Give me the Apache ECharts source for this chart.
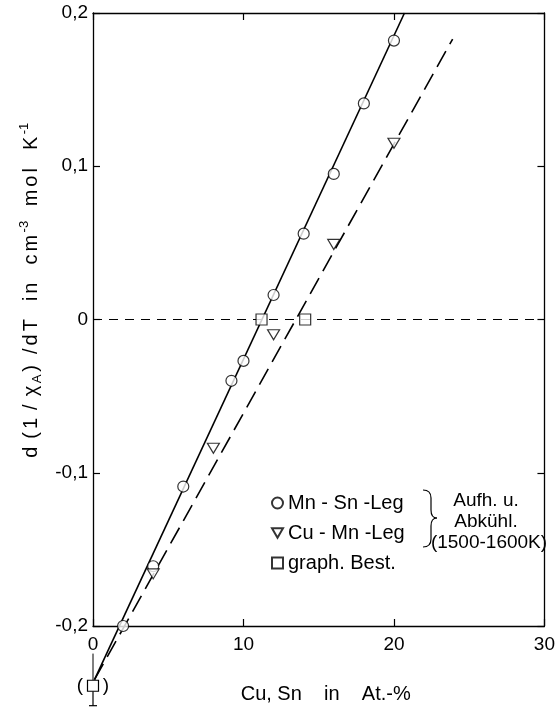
<!DOCTYPE html>
<html><head><meta charset="utf-8">
<script src="https://cdn.jsdelivr.net/npm/echarts@6/dist/echarts.min.js"></script>
<style>html,body{margin:0;padding:0;background:#fff}#c{width:558px;height:709px}</style>
</head><body><div id="c"></div>
<script>
// ---- data ----
const mnSnX = [2, 4, 6, 9.2, 10, 12, 14, 16, 18, 20];
const mnSnY = [-0.200, -0.161, -0.109, -0.040, -0.027, 0.016, 0.056, 0.095, 0.141, 0.182];
const cuMnX = [4, 8, 12, 16, 20];
const cuMnY = [-0.166, -0.084, -0.010, 0.049, 0.115];
const bestX = [11.2, 14.1];
const bestY = [0, 0];
const bestLowX = [0];
const bestLowY = [-0.239];
const bestLowErrHi = [-0.218];
const bestLowErrLo = [-0.252];
const fitMnSnX = [0.1, 20.7];
const fitMnSnY = [-0.235, 0.2];
const fitCuMnX = [0.1, 23.9];
const fitCuMnY = [-0.235, 0.183];
const zeroX = [0, 30];
const zeroY = [0, 0];
const legendNames = ['Mn - Sn -Leg', 'Cu - Mn -Leg', 'graph. Best.'];
const noteLines = ['Aufh. u.', 'Abkühl.', '(1500-1600K)'];
const xTitle = 'Cu, Sn    in    At.-%';

const FONT = 'Liberation Sans';
const zip = (a, b) => a.map((v, i) => [v, b[i]]);
const triDown = 'path://M0,0L12,0L6,10.4Z';
const sym = { color: '#fff', borderColor: '#000', borderWidth: 1.2 };

const chart = echarts.init(document.getElementById('c'), null, { renderer: 'canvas' });
const yFmt = v => { const r = Math.round(v * 10) / 10; return r === 0 ? '0' : r.toFixed(1).replace('.', ','); };

const braceStyle = { stroke: '#000', lineWidth: 1.2, fill: null };
const bz = (x1, y1, cx, cy, x2, y2) => ({ type: 'bezierCurve', z: 100, shape: { x1, y1, cpx1: cx, cpy1: cy, x2, y2 }, style: braceStyle });
const ln = (x1, y1, x2, y2) => ({ type: 'line', z: 100, shape: { x1, y1, x2, y2 }, style: braceStyle });
const note = (t, x, y) => ({ type: 'text', z: 100, x, y, style: { text: t, fontSize: 19, fontFamily: FONT, fill: '#000', align: 'center', verticalAlign: 'middle' } });

// y-axis title as spaced rich text: d(1/χA) /dT in cm-3 mol K-1
const ch = s => s.split('').map(c => `{t|${c}}`).join('');
const yName = '{g0| }' + '{t|d}{h| }{t|(}{t|1}{h| }{t|/}{h| }{t|χ}{sub|A}{t|)}' + '{g1| }' + ch('/dT') +
  '{g2| }' + ch('in') + '{g2| }' + ch('cm') + '{sup|-3}' + '{g3| }' + ch('mol') + '{g2| }' + ch('K') + '{sup|-1}';

chart.setOption({
  animation: false,
  backgroundColor: '#fff',
  textStyle: { fontFamily: FONT, color: '#000' },
  grid: { left: 93, right: 9, top: 13, bottom: 80, containLabel: false },
  xAxis: [
    { type: 'value', min: 0, max: 30, interval: 10, position: 'bottom',
      axisLine: { onZero: false, lineStyle: { color: '#000', width: 1.3 } },
      axisTick: { inside: true, length: 7, lineStyle: { color: '#000', width: 1.2 } },
      axisLabel: { fontSize: 19, color: '#000', fontFamily: FONT, margin: 9 },
      splitLine: { show: false },
      name: xTitle, nameLocation: 'middle', nameGap: 58,
      nameTextStyle: { fontSize: 20, color: '#000', fontFamily: FONT, padding: [0, 0, 0, 14] } },
    { type: 'value', min: 0, max: 30, interval: 10, position: 'top',
      axisLine: { onZero: false, lineStyle: { color: '#000', width: 1.3 } },
      axisTick: { inside: true, length: 7, lineStyle: { color: '#000', width: 1.2 } },
      axisLabel: { show: false }, splitLine: { show: false } }
  ],
  yAxis: [
    { type: 'value', min: -0.2, max: 0.2, interval: 0.1, position: 'left',
      axisLine: { onZero: false, lineStyle: { color: '#000', width: 1.3 } },
      axisTick: { inside: true, length: 7, lineStyle: { color: '#000', width: 1.2 } },
      axisLabel: { fontSize: 19, color: '#000', fontFamily: FONT, margin: 5, formatter: yFmt },
      splitLine: { show: false },
      name: yName,
      nameLocation: 'middle', nameGap: 47, nameRotate: 90,
      nameTextStyle: { fontFamily: FONT, color: '#000', rich: {
        t: { fontSize: 20, fontFamily: FONT, color: '#000', lineHeight: 26, padding: [0, 1.5, 0, 1.5] },
        h: { fontSize: 20, width: 5, lineHeight: 26 },
        g0: { fontSize: 20, width: 58, lineHeight: 26 },
        g1: { fontSize: 20, width: 8, lineHeight: 26 },
        g2: { fontSize: 20, width: 15, lineHeight: 26 },
        g3: { fontSize: 20, width: 12, lineHeight: 26 },
        sub: { fontSize: 13, fontFamily: FONT, color: '#000', lineHeight: 13, verticalAlign: 'bottom', padding: [0, 1.5, 0, 1] },
        sup: { fontSize: 13, fontFamily: FONT, color: '#000', lineHeight: 13, verticalAlign: 'top', padding: [0, 1, 0, 1] }
      } } },
    { type: 'value', min: -0.2, max: 0.2, interval: 0.1, position: 'right',
      axisLine: { onZero: false, lineStyle: { color: '#000', width: 1.3 } },
      axisTick: { inside: true, length: 7, lineStyle: { color: '#000', width: 1.2 } },
      axisLabel: { show: false }, splitLine: { show: false } }
  ],
  legend: {
    orient: 'vertical', left: 266, top: 488, itemGap: 10, itemWidth: 11, itemHeight: 11,
    selectedMode: false, data: legendNames,
    textStyle: { fontSize: 20, color: '#000', fontFamily: FONT }
  },
  graphic: [
    bz(423, 490, 431, 490, 431, 498), ln(431, 498, 431, 510), bz(431, 510, 431, 518, 437, 518),
    bz(437, 518, 431, 518, 431, 526), ln(431, 526, 431, 539), bz(431, 539, 431, 547, 423, 547),
    note(noteLines[0], 486, 501), note(noteLines[1], 486, 522), note(noteLines[2], 489, 543)
  ],
  series: [
    { type: 'line', name: 'zero', data: zip(zeroX, zeroY), symbol: 'none', silent: true,
      lineStyle: { color: '#000', width: 1, type: [9, 7] }, z: 1 },
    { type: 'line', name: 'fitMnSn', data: zip(fitMnSnX, fitMnSnY), symbol: 'none', clip: false,
      lineStyle: { color: '#000', width: 1.6 }, z: 2 },
    { type: 'line', name: 'fitCuMn', data: zip(fitCuMnX, fitCuMnY), symbol: 'none', clip: false,
      lineStyle: { color: '#000', width: 1.6, type: [18, 8] }, z: 2 },
    { type: 'scatter', name: legendNames[0], data: zip(mnSnX, mnSnY), symbol: 'circle', symbolSize: 11,
      itemStyle: sym, z: 5, clip: false },
    { type: 'scatter', name: legendNames[1], data: zip(cuMnX, cuMnY), symbol: triDown, symbolSize: [12, 10],
      itemStyle: sym, z: 5, clip: false },
    { type: 'scatter', name: legendNames[2], data: zip(bestX, bestY), symbol: 'rect', symbolSize: 11,
      itemStyle: sym, z: 5, clip: false },
    { type: 'custom', name: 'bestLow', clip: false, z: 6,
      data: bestLowX.map((x, i) => [x, bestLowY[i], bestLowErrHi[i], bestLowErrLo[i]]),
      renderItem: (params, api) => {
        const p = api.coord([api.value(0), api.value(1)]);
        const hi = api.coord([api.value(0), api.value(2)]);
        const lo = api.coord([api.value(0), api.value(3)]);
        return { type: 'group', children: [
          { type: 'line', shape: { x1: hi[0], y1: hi[1], x2: hi[0], y2: p[1] - 5.5 }, style: { stroke: '#000', lineWidth: 1 } },
          { type: 'line', shape: { x1: lo[0], y1: p[1] + 5.5, x2: lo[0], y2: lo[1] }, style: { stroke: '#000', lineWidth: 1.2 } },
          { type: 'line', shape: { x1: lo[0] - 4, y1: lo[1], x2: lo[0] + 4, y2: lo[1] }, style: { stroke: '#000', lineWidth: 1.2 } },
          { type: 'rect', shape: { x: p[0] - 5.5, y: p[1] - 5.5, width: 11, height: 11 }, style: { fill: '#fff', stroke: '#000', lineWidth: 1.2 } },
          { type: 'text', style: { text: '(', x: p[0] - 13, y: p[1], fontSize: 19, fontFamily: FONT, fill: '#000', align: 'center', verticalAlign: 'middle' } },
          { type: 'text', style: { text: ')', x: p[0] + 13, y: p[1], fontSize: 19, fontFamily: FONT, fill: '#000', align: 'center', verticalAlign: 'middle' } }
        ] };
      } }
  ]
});
</script></body></html>
